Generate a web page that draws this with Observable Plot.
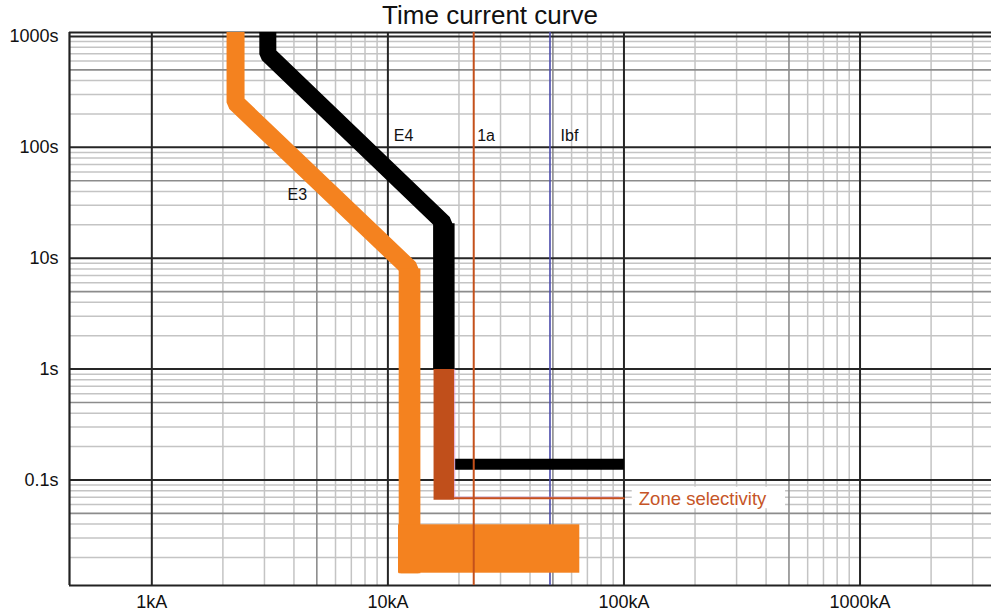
<!DOCTYPE html>
<html>
<head>
<meta charset="utf-8">
<script src="https://cdn.jsdelivr.net/npm/d3@7"></script>
<script src="https://cdn.jsdelivr.net/npm/@observablehq/plot@0.6"></script>
<style>
html, body { margin: 0; padding: 0; background: #fff; overflow: hidden; }
#title {
  height: 28px; line-height: 30px;
  font-family: "Liberation Sans", Arial, Helvetica, sans-serif;
  font-size: 26px; color: #111; text-align: center;
  padding-right: 11px; white-space: nowrap;
}
</style>
</head>
<body>
<div id="title">Time current curve</div>
<div id="chart"></div>
<script>
// ---- axis ticks (current in kA, time in s)
const xTickValues = [1, 10, 100, 1000];
const xTickLabels = ["1kA", "10kA", "100kA", "1000kA"];
const yTickValues = [0.1, 1, 10, 100, 1000];
const yTickLabels = ["0.1s", "1s", "10s", "100s", "1000s"];
const xDomain = [0.448, 3605];
const yDomain = [0.01117, 1086.5];

// ---- E4 curve (black)
const e4Current = [3.10, 3.10, 17.26, 17.26];
const e4Time = [1100, 692, 20.7, 1.0];
// E4 zone-selective part (brown)
const e4ZoneCurrent = [17.26, 17.26];
const e4ZoneTime = [1.0, 0.0662];
// E4 instantaneous part
const e4InstCurrent = [19.2, 100];
const e4InstTime = [0.1384, 0.1384];

// ---- E3 curve (orange)
const e3Current = [2.263, 2.263, 12.35, 12.35];
const e3Time = [1100, 254, 8.08, 0.01442];
const e3InstCurrent = [11.09, 65.0];
const e3InstTime = [0.01442, 0.0394];

// ---- zone selectivity
const zoneSelCurrent = [19.2, 100];
const zoneSelTime = [0.0685, 0.0685];
const zoneOutlineCurrent = [19.2, 19.2, 95];
const zoneOutlineTime = [1.0, 0.0700, 0.0700];
const zoneLabel = "Zone selectivity";
const zoneLabelCurrent = 115.6;
const zoneLabelTime = 0.0679;
const zoneBoxCurrent = [108.4, 483.6];
const zoneBoxTime = [0.0550, 0.0861];

// ---- vertical reference currents
const ia = 23.1;   // 1a
const ibf = 48.6;  // Ibf

// ---- curve labels
const labelText = ["E4", "E3", "1a", "Ibf"];
const labelCurrent = [10.6, 3.76, 23.9, 53.9];
const labelTime = [128, 37, 128, 128];

// ---- grid values (derived from decades)
const decadesX = [1, 10, 100, 1000];
const decadesY = [0.01, 0.1, 1, 10, 100];
const minorMult = [2, 3, 4, 6, 7, 8, 9];
const xMinor = decadesX.flatMap(d => minorMult.map(m => m * d)).filter(v => v > xDomain[0] && v < xDomain[1]);
const yMinor = decadesY.flatMap(d => minorMult.map(m => m * d)).filter(v => v > yDomain[0] && v < yDomain[1]);
const xFive = decadesX.map(d => 5 * d).filter(v => v < xDomain[1]);
const yFive = decadesY.map(d => 5 * d).filter(v => v < yDomain[1]);

const pts = (xs, ys) => xs.map((x, i) => ({x, y: ys[i]}));
const e4 = pts(e4Current, e4Time);
const e4Zone = pts(e4ZoneCurrent, e4ZoneTime);
const e4Inst = pts(e4InstCurrent, e4InstTime);
const e3 = pts(e3Current, e3Time);
const e3Inst = [{x1: e3InstCurrent[0], x2: e3InstCurrent[1], y1: e3InstTime[0], y2: e3InstTime[1]}];
const zoneSel = pts(zoneSelCurrent, zoneSelTime);
const zoneOutline = pts(zoneOutlineCurrent, zoneOutlineTime);
const zoneBox = [{x1: zoneBoxCurrent[0], x2: zoneBoxCurrent[1], y1: zoneBoxTime[0], y2: zoneBoxTime[1]}];
const labels = labelText.map((t, i) => ({t, x: labelCurrent[i], y: labelTime[i]}));

const xLab = new Map(xTickValues.map((v, i) => [v, xTickLabels[i]]));
const yLab = new Map(yTickValues.map((v, i) => [v, yTickLabels[i]]));

const ORANGE = "#f4821f";
const BROWN = "#c04f1b";
const RED = "#c4501b";
const BLUE = "#4b4bab";

const thick = (data, stroke, w) => Plot.line(data, {
  x: "x", y: "y", stroke, strokeWidth: w,
  strokeLinejoin: "miter", strokeLinecap: "butt"
});

const chart = Plot.plot({
  width: 991,
  height: 585,
  marginTop: 4,
  marginBottom: 28,
  marginLeft: 69,
  marginRight: 0,
  style: {
    fontFamily: "'Liberation Sans', Arial, Helvetica, sans-serif",
    fontSize: "18px",
    color: "#111",
    background: "white",
    overflow: "visible"
  },
  x: {
    type: "log", domain: xDomain,
    ticks: xTickValues, tickFormat: d => xLab.get(d),
    tickSize: 0, tickPadding: 10, label: null
  },
  y: {
    type: "log", domain: yDomain,
    ticks: yTickValues, tickFormat: d => yLab.get(d),
    tickSize: 0, tickPadding: 11, label: null
  },
  marks: [
    // grid
    Plot.ruleX(xMinor, {stroke: "#c4c4c4", strokeWidth: 1.5}),
    Plot.ruleY(yMinor, {stroke: "#c4c4c4", strokeWidth: 1.5}),
    Plot.ruleX(xFive, {stroke: "#8c8c8c", strokeWidth: 1.6}),
    Plot.ruleY(yFive, {stroke: "#8c8c8c", strokeWidth: 1.6}),
    Plot.ruleX(xTickValues, {stroke: "#262626", strokeWidth: 2}),
    Plot.ruleY(yTickValues, {stroke: "#262626", strokeWidth: 2}),
    // borders
    Plot.ruleX([xDomain[0]], {stroke: "#222", strokeWidth: 2.2}),
    Plot.ruleY([yDomain[0], yDomain[1]], {stroke: "#222", strokeWidth: 2.2}),
    // Ibf line
    Plot.ruleX([ibf], {stroke: BLUE, strokeWidth: 1.6}),
    // E3
    thick(e3, ORANGE, 18),
    thick(e3.slice(2), ORANGE, 21.7),
    Plot.rect(e3Inst, {x1: "x1", x2: "x2", y1: "y1", y2: "y2", fill: ORANGE}),
    // E4
    thick(e4, "#000", 17),
    thick(e4.slice(2), "#000", 21.5),
    thick(e4Zone, BROWN, 20.6),
    thick(e4Inst, "#000", 11),
    // zone selectivity
    Plot.line(zoneOutline, {x: "x", y: "y", stroke: "#d98fd6", strokeWidth: 1, strokeOpacity: 0.7}),
    Plot.line(zoneSel, {x: "x", y: "y", stroke: "#c8501e", strokeWidth: 2}),
    // 1a line
    Plot.ruleX([ia], {stroke: RED, strokeWidth: 2}),
    Plot.rect(zoneBox, {x1: "x1", x2: "x2", y1: "y1", y2: "y2", fill: "white"}),
    Plot.text([zoneLabel], {x: zoneLabelCurrent, y: zoneLabelTime, text: d => d,
      textAnchor: "start", fill: "#c65527", fontSize: 18.5}),
    // labels
    Plot.text(labels, {x: "x", y: "y", text: "t", textAnchor: "start", fill: "#111", fontSize: 16})
  ]
});
document.getElementById("chart").appendChild(chart);
</script>
</body>
</html>
